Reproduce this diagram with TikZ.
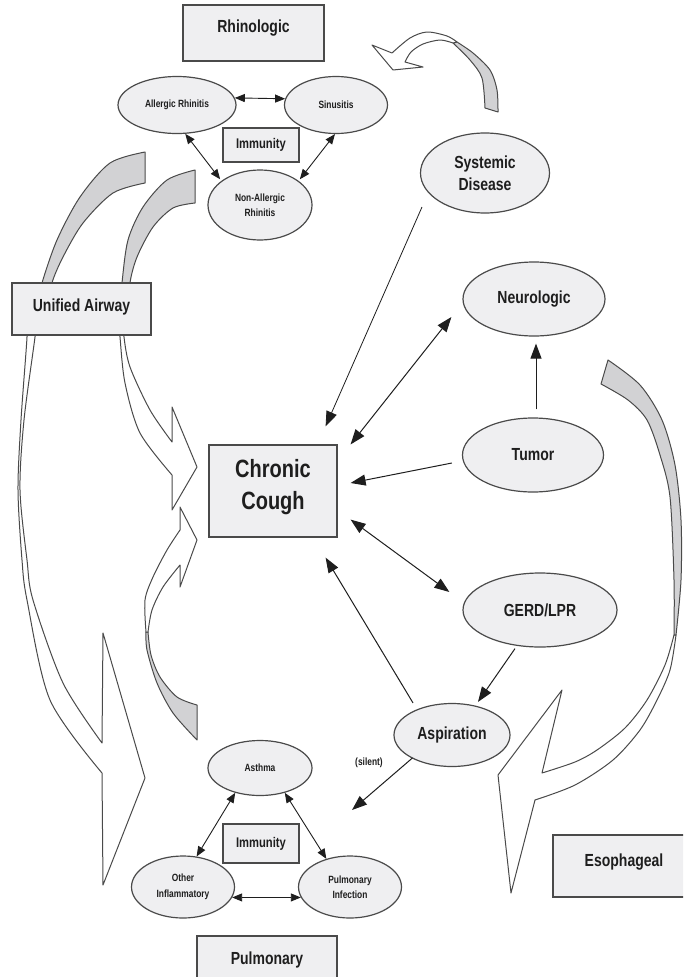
\documentclass[tikz,border=0pt]{standalone}
\usepackage{fontspec}
\setmainfont{Liberation Sans}[FakeStretch=0.8]
\usetikzlibrary{shapes.geometric,arrows.meta,calc}
\definecolor{boxfill}{HTML}{EFEFF1}
\definecolor{edgecol}{HTML}{4A4A4A}
\definecolor{ink}{HTML}{1E1E1E}
\definecolor{bandcol}{HTML}{D2D2D4}
\newcommand\upby[2]{\raisebox{0pt}[\height][\dimexpr\depth+#1\relax]{#2}}
\newcommand\twolines[2]{\begin{tabular}{@{}c@{}}#1\\#2\end{tabular}}
\tikzset{
  boxbase/.style={draw=edgecol, line width=1.2pt, fill=boxfill, text=ink, inner sep=0pt, align=center},
  sqbox/.style={boxbase, rectangle},
  oval/.style={boxbase, ellipse},
  bigtxt/.style={font=\bfseries\fontsize{17.5}{22.5}\selectfont},
  cctxt/.style={font=\bfseries\fontsize{25}{32}\selectfont},
  immtxt/.style={font=\bfseries\fontsize{14}{17}\selectfont},
  smalltxt/.style={font=\bfseries\fontsize{10.5}{15.5}\selectfont},
  onearrow/.style={draw=ink, line width=1pt, -{Triangle[length=15pt,width=11pt]}},
  twoarrow/.style={draw=ink, line width=1pt, {Triangle[length=15pt,width=11pt]}-{Triangle[length=15pt,width=11pt]}},
  minitwo/.style={draw=ink, line width=0.9pt, {Triangle[length=10pt,width=8pt]}-{Triangle[length=10pt,width=8pt]}},
  ribbonwhite/.style={draw=edgecol, line width=1pt, fill=white, line join=round},
  ribbongrey/.style={draw=edgecol, line width=1pt, fill=bandcol, line join=round},
}
\begin{document}
\begin{tikzpicture}[x=1pt,y=-1pt]
\clip (0,0) rectangle (683,977);
\fill[white] (0,0) rectangle (683,977);

% ---- ribbon arrow: Systemic -> Rhinologic (top right)
\draw[ribbongrey] plot[smooth] coordinates {(498,112) (497,90) (490,70) (473,53) (457,42)}
  -- plot[smooth] coordinates {(453,43) (470,60) (482,78) (485,108)} -- cycle;
\draw[ribbonwhite] plot[smooth] coordinates {(457,42) (447,36) (427,32) (410,38) (392,53)}
  -- (372,45) -- (393,70) -- (423,67)
  -- plot[smooth] coordinates {(405,62) (411,52) (423,44) (440,40) (453,43)} -- cycle;

% ---- ribbon arrow: Rhinologic -> Pulmonary (outer left)
\draw[ribbongrey] plot[smooth] coordinates {(145,152) (110,163) (80,197) (57,240) (42,283) (38,305)}
  -- plot[smooth] coordinates {(50,305) (52,283) (63,257) (83,223) (113,193) (145,183)} -- cycle;
\draw[ribbonwhite] plot[smooth] coordinates {(26,320) (27,337) (21,420) (18,490) (22,560) (27,600) (50,700) (102,773)}
  -- (103,885) -- (145,778) -- (103,633)
  -- plot[smooth] coordinates {(102,743) (63,683) (33,600) (27,560) (20,490) (24,420) (35,337) (36,320)} -- cycle;

% ---- ribbon arrow: Rhinologic -> Chronic Cough (inner left)
\draw[ribbongrey] plot[smooth] coordinates {(195,170) (167,180) (143,207) (128,240) (122,283) (121,305)}
  -- plot[smooth] coordinates {(131,305) (130,283) (137,257) (153,227) (173,208) (195,203)} -- cycle;
\draw[ribbonwhite] plot[smooth] coordinates {(119,320) (120,337) (125,383) (140,433) (172,475)}
  -- (172,510) -- (197,467) -- (172,407)
  -- plot[smooth] coordinates {(172,442) (150,410) (130,367) (124,337) (124,320)} -- cycle;

% ---- ribbon arrow: Pulmonary -> Chronic Cough
\draw[ribbongrey] plot[smooth] coordinates {(197,740) (173,713) (157,683) (147,650) (146,632)}
  -- plot[smooth] coordinates {(148,632) (151,655) (160,677) (177,697) (197,705)} -- cycle;
\draw[ribbonwhite] plot[smooth] coordinates {(146,632) (145,600) (153,577) (167,550) (180,530)}
  -- (180,507) -- (197,540) -- (180,587)
  -- plot[smooth] coordinates {(180,565) (163,587) (152,610) (148,632)} -- cycle;

% ---- ribbon arrow: Esophageal (right)
\draw[ribbongrey] plot[smooth] coordinates {(608,360) (640,385) (662,420) (675,465) (681,520) (681,580) (676,635)}
  -- plot[smooth] coordinates {(674,635) (674,580) (670,497) (660,455) (647,420) (628,400) (601,384)} -- cycle;
\draw[ribbonwhite] plot[smooth] coordinates {(676,635) (670,670) (657,700) (640,730) (613,760) (575,785) (535,800)}
  -- (511,893) -- (498,775) -- (562,690)
  -- plot[smooth] coordinates {(542,773) (575,762) (597,750) (625,728) (647,700) (665,665) (674,635)} -- cycle;

% ---- nodes
\node[sqbox, bigtxt, minimum width=141pt, minimum height=56pt] (rhino) at (253.5,33) {\upby{9pt}{Rhinologic}};
\node[oval, smalltxt, minimum width=118pt, minimum height=57pt] (allergic) at (177,105) {Allergic Rhinitis};
\node[oval, smalltxt, minimum width=103pt, minimum height=57pt] (sinus) at (336,105) {Sinusitis};
\node[sqbox, immtxt, minimum width=76pt, minimum height=34pt] (immtop) at (261,145) {Immunity};
\node[oval, smalltxt, minimum width=104pt, minimum height=70pt] (nonall) at (260,205) {Non-Allergic\\Rhinitis};
\node[oval, bigtxt, minimum width=129pt, minimum height=80pt] (systemic) at (485,173) {Systemic\\Disease};
\node[sqbox, bigtxt, minimum width=139pt, minimum height=52pt] (unified) at (81.5,309) {\upby{5pt}{Unified Airway}};
\node[oval, bigtxt, minimum width=142pt, minimum height=74pt] (neuro) at (534,299) {Neurologic};
\node[oval, bigtxt, minimum width=141pt, minimum height=74pt] (tumor) at (533,455) {Tumor};
\node[sqbox, cctxt, minimum width=128pt, minimum height=92pt] (cc) at (273,491) {\upby{8pt}{\twolines{Chronic}{Cough}}};
\node[oval, bigtxt, minimum width=154pt, minimum height=74pt] (gerd) at (540,610) {GERD/LPR};
\node[oval, bigtxt, minimum width=116pt, minimum height=63pt] (asp) at (452,735) {Aspiration};
\node[oval, smalltxt, minimum width=104pt, minimum height=55pt] (asthma) at (260,768) {Asthma};
\node[sqbox, immtxt, minimum width=76pt, minimum height=39pt] (immbot) at (261,843.5) {Immunity};
\node[oval, smalltxt, minimum width=103pt, minimum height=62pt] (other) at (183,887) {Other\\Inflammatory};
\node[oval, smalltxt, minimum width=103pt, minimum height=62pt] (pinf) at (350,887) {Pulmonary\\Infection};
\node[sqbox, bigtxt, minimum width=140pt, minimum height=47pt] (pulm) at (267,959.5) {Pulmonary};
\node[sqbox, bigtxt, minimum width=142pt, minimum height=62pt] (eso) at (624,866) {\upby{8pt}{Esophageal}};
\node[smalltxt, text=ink, inner sep=0pt] (silent) at (369,763) {(silent)};
\coordinate (silentend) at (352,810);

% ---- connectors
\draw[minitwo] (allergic.7) -- (sinus.173);
\draw[minitwo, shorten >=2pt] (allergic.-74) -- (nonall.148);
\draw[minitwo, shorten >=2pt] (sinus.-92) -- (nonall.32);

\draw[onearrow, line width=0.8pt] ($(systemic.center)+(-63,34)$) -- ($(cc.north east)+(-12,-18)$);
\draw[twoarrow] ($(cc.north east)+(13,0)$) -- ($(neuro.west)+(-11,18)$);
\draw[onearrow] ($(tumor.west)+(-10,8)$) -- ($(cc.east)+(13,-8)$);
\draw[onearrow] ($(tumor.north)+(3,-8)$) -- ($(neuro.south)+(2,7)$);
\draw[twoarrow] ($(cc.south east)+(13,-18)$) -- ($(gerd.west)+(-13,-18)$);
\draw[onearrow] ($(gerd.south)+(-25,1)$) -- ($(asp.north)+(26,-1)$);
\draw[onearrow] ($(asp.north)+(-39,0)$) -- ($(cc.south east)+(-12,20)$);
\draw[onearrow] ($(asp.west)+(19,23)$) -- (silentend);

\draw[minitwo] (asthma.225) -- (other.66);
\draw[minitwo] (asthma.315) -- (pinf.130);
\draw[minitwo] (other.-12) -- (pinf.192);
\end{tikzpicture}
\end{document}
